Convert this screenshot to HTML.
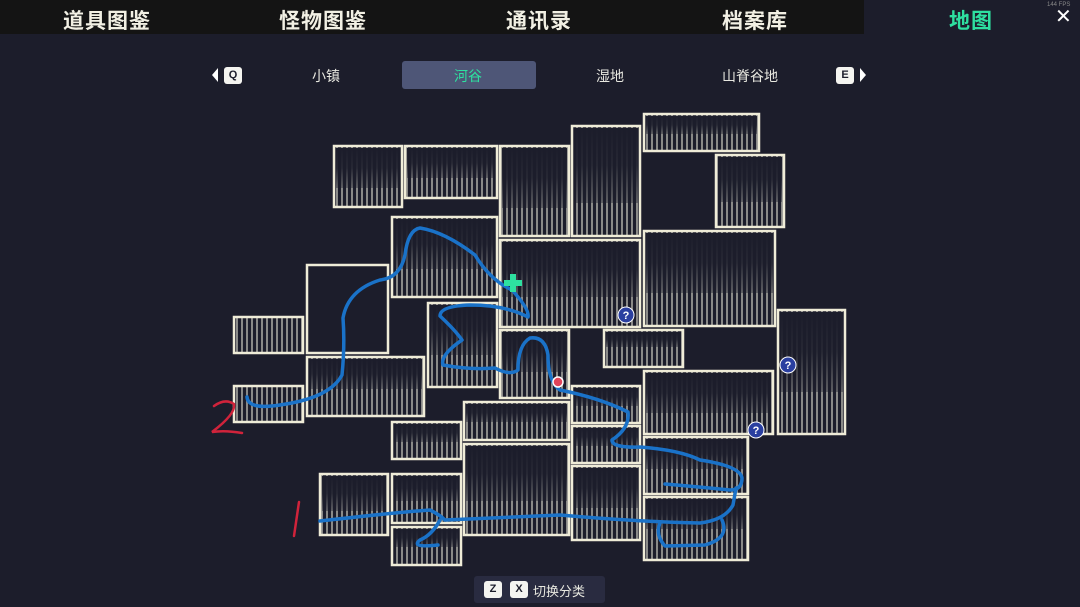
<!DOCTYPE html>
<html><head><meta charset="utf-8"><style>
body{margin:0;width:1080px;height:607px;background:#1c1d2b;overflow:hidden;position:relative;font-family:"Liberation Sans","Noto Sans CJK SC",sans-serif}
.top{position:absolute;left:0;top:0;width:864px;height:34px;background:#141414}
.t{position:absolute;top:5px;font-size:21px;color:#f2f0e4;letter-spacing:1px;font-weight:bold}
.s{position:absolute;top:66px;font-size:14px;color:#e8e8e0}
.k{position:absolute;background:#f4f4f0;color:#1c1d2b;font-size:11px;font-weight:bold;text-align:center;border-radius:3px}
</style></head><body>
<div class="top"></div>
<div class="t" style="left:63px">道具图鉴</div>
<div class="t" style="left:279px">怪物图鉴</div>
<div class="t" style="left:506px">通讯录</div>
<div class="t" style="left:722px">档案库</div>
<div class="t" style="left:949px;color:#2ee0a0">地图</div>
<div style="position:absolute;left:1047px;top:2px;font-size:6px;color:#888">144 FPS</div>
<div style="position:absolute;left:1055px;top:4px;font-size:20px;color:#fff">✕</div>
<div style="position:absolute;left:402px;top:61px;width:134px;height:28px;background:#4e5677;border-radius:3px"></div>
<div class="k" style="left:224px;top:67px;width:18px;height:17px;line-height:17px">Q</div>
<div style="position:absolute;left:212px;top:68px;width:0;height:0;border:7px solid transparent;border-right:6px solid #fff;border-left:0"></div>
<div class="s" style="left:312px">小镇</div>
<div class="s" style="left:454px;color:#2ee0a0">河谷</div>
<div class="s" style="left:596px">湿地</div>
<div class="s" style="left:722px">山脊谷地</div>
<div class="k" style="left:836px;top:67px;width:18px;height:17px;line-height:17px">E</div>
<div style="position:absolute;left:860px;top:68px;width:0;height:0;border:7px solid transparent;border-left:6px solid #fff;border-right:0"></div>
<svg width="1080" height="607" style="position:absolute;left:0;top:0">
<defs><pattern id="p" width="5" height="10" patternUnits="userSpaceOnUse"><rect x="1" y="0" width="2" height="10" fill="#8a8a88"/></pattern>
<linearGradient id="g" x1="0" y1="0" x2="0" y2="1"><stop offset="0" stop-color="#1c1d2b" stop-opacity="1"/><stop offset="0.5" stop-color="#1c1d2b" stop-opacity="0.9"/><stop offset="1" stop-color="#1c1d2b" stop-opacity="0.4"/></linearGradient></defs>
<g stroke="#efecd8" stroke-width="2.5">
<rect x="334" y="146" width="68" height="61" fill="url(#p)"/>
<rect x="405" y="146" width="92" height="52" fill="url(#p)"/>
<rect x="500" y="146" width="69" height="90" fill="url(#p)"/>
<rect x="572" y="126" width="68" height="110" fill="url(#p)"/>
<rect x="644" y="114" width="115" height="37" fill="url(#p)"/>
<rect x="716" y="155" width="68" height="72" fill="url(#p)"/>
<rect x="392" y="217" width="105" height="80" fill="url(#p)"/>
<rect x="500" y="240" width="140" height="87" fill="url(#p)"/>
<rect x="644" y="231" width="131" height="95" fill="url(#p)"/>
<rect x="307" y="265" width="81" height="88" fill="#1c1d2b"/>
<rect x="234" y="317" width="69" height="36" fill="url(#p)"/>
<rect x="428" y="303" width="69" height="84" fill="url(#p)"/>
<rect x="500" y="330" width="69" height="68" fill="url(#p)"/>
<rect x="604" y="330" width="79" height="37" fill="url(#p)"/>
<rect x="778" y="310" width="67" height="124" fill="url(#p)"/>
<rect x="307" y="357" width="117" height="59" fill="url(#p)"/>
<rect x="234" y="386" width="69" height="36" fill="url(#p)"/>
<rect x="572" y="386" width="68" height="37" fill="url(#p)"/>
<rect x="644" y="371" width="129" height="63" fill="url(#p)"/>
<rect x="464" y="402" width="105" height="38" fill="url(#p)"/>
<rect x="392" y="422" width="69" height="37" fill="url(#p)"/>
<rect x="572" y="426" width="68" height="37" fill="url(#p)"/>
<rect x="644" y="437" width="104" height="57" fill="url(#p)"/>
<rect x="464" y="444" width="105" height="91" fill="url(#p)"/>
<rect x="320" y="474" width="68" height="61" fill="url(#p)"/>
<rect x="392" y="474" width="69" height="49" fill="url(#p)"/>
<rect x="572" y="466" width="68" height="74" fill="url(#p)"/>
<rect x="644" y="497" width="104" height="63" fill="url(#p)"/>
<rect x="392" y="527" width="69" height="38" fill="url(#p)"/>
</g>
<g fill="url(#g)">
<rect x="336" y="148" width="64" height="40"/><rect x="407" y="148" width="88" height="30"/><rect x="502" y="148" width="65" height="60"/><rect x="574" y="128" width="64" height="75"/><rect x="646" y="116" width="111" height="18"/><rect x="718" y="157" width="64" height="45"/><rect x="394" y="219" width="101" height="50"/><rect x="502" y="242" width="136" height="55"/><rect x="646" y="233" width="127" height="60"/><rect x="430" y="305" width="65" height="50"/><rect x="502" y="332" width="65" height="40"/><rect x="780" y="312" width="63" height="80"/><rect x="309" y="359" width="113" height="30"/><rect x="646" y="373" width="125" height="40"/><rect x="466" y="404" width="101" height="18"/><rect x="394" y="424" width="65" height="18"/><rect x="646" y="439" width="100" height="30"/><rect x="466" y="446" width="101" height="55"/><rect x="322" y="476" width="64" height="35"/><rect x="394" y="476" width="65" height="25"/><rect x="574" y="468" width="64" height="40"/><rect x="646" y="499" width="100" height="30"/><rect x="606" y="332" width="75" height="15"/><rect x="574" y="388" width="64" height="18"/><rect x="574" y="428" width="64" height="18"/><rect x="394" y="529" width="65" height="18"/>
</g>
<g fill="none" stroke="#1a72c8" stroke-width="3.5" stroke-linecap="round" stroke-linejoin="round">
<path d="M247,397 Q248,410 280,405 Q330,398 342,375 Q345,345 343,318 Q348,290 380,280 Q400,278 405,255 Q408,230 420,228 Q445,232 475,255 Q490,280 512,290 Q530,310 528,317 Q505,305 470,305 Q440,306 440,316 Q455,330 462,340 Q440,355 443,365 Q470,370 495,368 Q510,376 518,370 Q518,345 530,338 Q545,336 548,355 Q548,382 560,390 Q600,398 628,412 Q630,428 612,440 Q612,448 640,447 Q680,450 700,460 Q740,466 742,478 Q742,490 730,490 Q700,487 665,484"/>
<path d="M320,521 Q400,512 430,510 Q440,515 445,520 L560,515 Q640,522 700,523 Q725,520 733,505 L736,488"/>
<path d="M722,520 Q730,538 705,545 L665,546 Q655,535 660,523"/>
<path d="M440,520 Q432,535 420,540 Q410,548 438,545"/>
</g>
<g fill="none" stroke="#d0233b" stroke-width="2.5" stroke-linecap="round">
<path d="M214,406 Q225,398 234,404 Q236,414 212,432 Q225,430 242,433"/>
<path d="M299,502 L294,536"/>
</g>
<g transform="translate(513,283)"><rect x="-3" y="-9" width="6" height="18" fill="#2ee0a0"/><rect x="-9" y="-3" width="18" height="6" fill="#2ee0a0"/></g>
<circle cx="558" cy="382" r="5" fill="#e0445a" stroke="#fff" stroke-width="1.5"/>
<g fill="#2a3fa0" stroke="#fff" stroke-width="1"><circle cx="626" cy="315" r="8"/><circle cx="788" cy="365" r="8"/><circle cx="756" cy="430" r="8"/></g>
<g fill="#fff" font-size="11" font-weight="bold" text-anchor="middle"><text x="626" y="319">?</text><text x="788" y="369">?</text><text x="756" y="434">?</text></g>
<rect x="474" y="576" width="131" height="27" rx="3" fill="#292b40"/>
</svg>
<div class="k" style="left:484px;top:581px;width:18px;height:17px;line-height:17px">Z</div>
<div class="k" style="left:510px;top:581px;width:18px;height:17px;line-height:17px">X</div>
<div style="position:absolute;left:533px;top:581px;font-size:13px;color:#e8e8e0">切换分类</div>
</body></html>
